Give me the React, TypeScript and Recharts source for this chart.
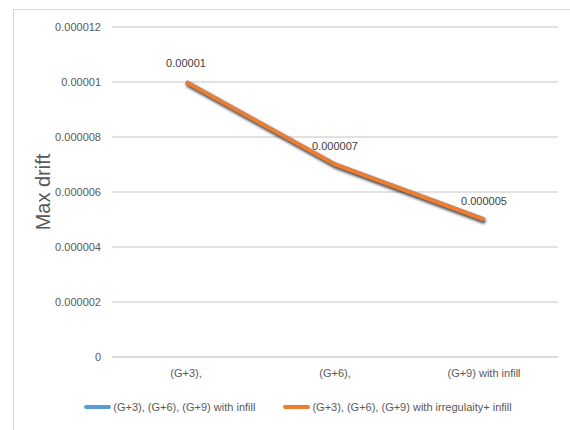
import { LineChart, Line, XAxis, YAxis, CartesianGrid, Legend, LabelList } from 'recharts';

const categories = ['(G+3),', '(G+6),', '(G+9) with infill'];
const infillValues = [0.00001, 0.000007, 0.000005];
const irregularValues = [0.00001, 0.000007, 0.000005];
const yTicks = [0, 0.000002, 0.000004, 0.000006, 0.000008, 0.00001, 0.000012];
const yTickLabels = ['0', '0.000002', '0.000004', '0.000006', '0.000008', '0.00001', '0.000012'];
const seriesNames = [
    '(G+3), (G+6), (G+9) with infill',
    '(G+3), (G+6), (G+9) with irregulaity+ infill',
];

const FONT = '"Liberation Sans", Arial, sans-serif';

const data = categories.map((c, i) => ({
    name: c,
    infill: infillValues[i],
    irregular: irregularValues[i],
}));

const CustomLegend = ({ payload }: any) => (
    <div
        style={{
            height: 32,
            boxSizing: 'border-box',
            paddingTop: 8,
            paddingLeft: 38,
            display: 'flex',
            justifyContent: 'center',
            alignItems: 'center',
            fontFamily: FONT,
            fontSize: 11,
            color: '#595959',
        }}
    >
        {(payload || []).map((p: any, i: number) => (
            <div key={i} style={{ display: 'flex', alignItems: 'center', marginLeft: i > 0 ? 28 : 0 }}>
                <span style={{ display: 'inline-block', width: 27, height: 4, borderRadius: 2, background: p.color, marginRight: 2 }} />
                <span>{p.value}</span>
            </div>
        ))}
    </div>
);

export default function App() {
    return (
        <div style={{ position: 'fixed', top: 0, left: 0, width: 570, height: 430, background: '#fff', overflow: 'hidden' }}>
            <style>{`.shadow-line path { filter: drop-shadow(1px 2px 1.5px rgba(0,0,0,0.5)); }`}</style>
            <div
                style={{
                    position: 'absolute',
                    left: 13,
                    top: 9,
                    width: 570,
                    height: 430,
                    borderLeft: '1px solid #d9d9d9',
                    borderTop: '1px solid #d9d9d9',
                }}
            />
            <div style={{ position: 'absolute', left: 0, top: 0 }}>
                <LineChart
                    width={570}
                    height={430}
                    data={data}
                    margin={{ top: 27, right: 12, left: 0, bottom: 11 }}
                >
                    <CartesianGrid vertical={false} stroke="#d9d9d9" strokeWidth={1.3} />
                    <XAxis
                        dataKey="name"
                        height={30}
                        padding={{ left: 74, right: 74 }}
                        axisLine={{ stroke: '#d9d9d9', strokeWidth: 1.3 }}
                        tickLine={false}
                        tickSize={0}
                        tickMargin={12}
                        tick={{ fill: '#595959', fontSize: 11, fontFamily: FONT }}
                        interval={0}
                    />
                    <YAxis
                        width={112}
                        domain={[0, 0.000012]}
                        ticks={yTicks}
                        tickFormatter={(v: number) => yTickLabels[yTicks.indexOf(v)] ?? String(v)}
                        axisLine={false}
                        tickLine={false}
                        tickSize={0}
                        tickMargin={11}
                        tick={{ fill: '#595959', fontSize: 11, fontFamily: FONT }}
                        label={{
                            value: 'Max drift',
                            angle: -90,
                            position: 'insideLeft',
                            offset: 43,
                            textAnchor: 'middle',
                            fill: '#595959',
                            fontSize: 20,
                            fontFamily: FONT,
                        }}
                    />
                    <Legend verticalAlign="bottom" content={<CustomLegend />} />
                    <Line
                        name={seriesNames[0]}
                        dataKey="infill"
                        stroke="#5B9BD5"
                        strokeWidth={4}
                        dot={false}
                        className="shadow-line"
                        isAnimationActive={false}
                    />
                    <Line
                        name={seriesNames[1]}
                        dataKey="irregular"
                        stroke="#ED7D31"
                        strokeWidth={4}
                        dot={false}
                        className="shadow-line"
                        isAnimationActive={false}
                    >
                        <LabelList
                            dataKey="irregular"
                            position="top"
                            offset={15}
                            fill="#404040"
                            fontSize={11}
                            fontFamily={FONT}
                        />
                    </Line>
                </LineChart>
            </div>
        </div>
    );
}
